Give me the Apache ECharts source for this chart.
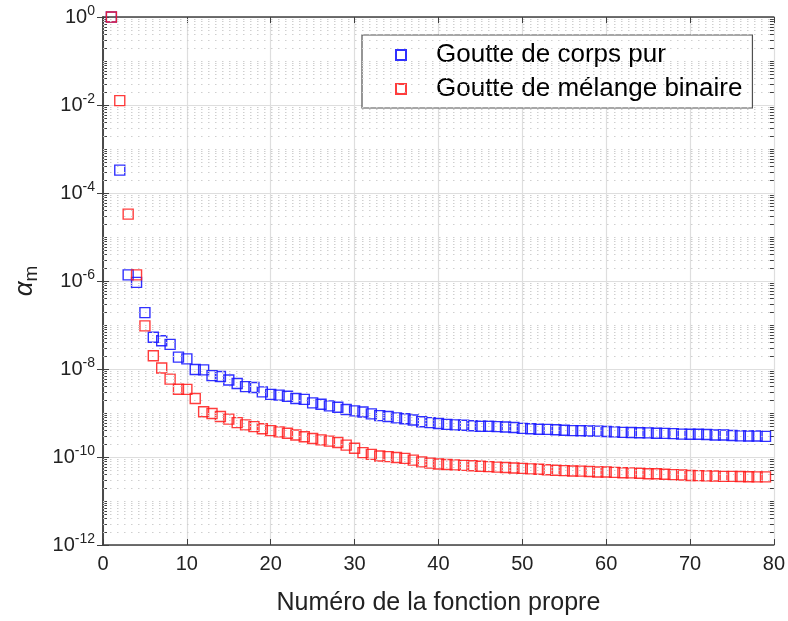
<!DOCTYPE html>
<html><head><meta charset="utf-8">
<script src="https://cdn.jsdelivr.net/npm/echarts@6/dist/echarts.min.js"></script>
<style>html,body{margin:0;padding:0;background:#fff}#c{width:788px;height:621px}</style>
</head><body><div id="c"></div>
<script>
// eigenfunction index m
const modes = [1,2,3,4,5,6,7,8,9,10,11,12,13,14,15,16,17,18,19,20,
  21,22,23,24,25,26,27,28,29,30,31,32,33,34,35,36,37,38,39,40,
  41,42,43,44,45,46,47,48,49,50,51,52,53,54,55,56,57,58,59,60,
  61,62,63,64,65,66,67,68,69,70,71,72,73,74,75,76,77,78,79];
// Goutte de corps pur
const pureDrop = [1,3.31e-4,1.38e-6,9.33e-7,1.91e-7,5.25e-8,4.37e-8,3.63e-8,1.86e-8,1.70e-8,
  9.77e-9,9.55e-9,7.08e-9,6.76e-9,5.62e-9,4.68e-9,3.98e-9,3.80e-9,3.02e-9,2.65e-9,
  2.55e-9,2.40e-9,2.14e-9,2.04e-9,1.70e-9,1.58e-9,1.45e-9,1.35e-9,1.20e-9,1.12e-9,
  1.05e-9,9.55e-10,8.71e-10,8.32e-10,7.76e-10,7.41e-10,6.92e-10,6.31e-10,6.03e-10,5.75e-10,
  5.50e-10,5.37e-10,5.25e-10,5.13e-10,5.01e-10,4.98e-10,4.90e-10,4.79e-10,4.68e-10,4.47e-10,
  4.37e-10,4.27e-10,4.25e-10,4.17e-10,4.07e-10,3.98e-10,3.96e-10,3.89e-10,3.87e-10,3.80e-10,
  3.72e-10,3.63e-10,3.61e-10,3.55e-10,3.53e-10,3.47e-10,3.45e-10,3.39e-10,3.31e-10,3.30e-10,
  3.29e-10,3.24e-10,3.16e-10,3.15e-10,3.09e-10,3.02e-10,3.01e-10,3.00e-10,2.95e-10];
// Goutte de mélange binaire
const binaryDrop = [1,1.26e-2,3.31e-5,1.38e-6,9.55e-8,2.00e-8,1.05e-8,5.89e-9,3.47e-9,3.45e-9,
  2.14e-9,1.07e-9,9.77e-10,8.32e-10,7.24e-10,6.03e-10,5.37e-10,4.90e-10,4.37e-10,3.98e-10,
  3.72e-10,3.47e-10,3.16e-10,2.88e-10,2.63e-10,2.45e-10,2.29e-10,2.14e-10,1.86e-10,1.58e-10,
  1.26e-10,1.15e-10,1.05e-10,1.02e-10,9.77e-11,9.33e-11,8.51e-11,7.76e-11,7.24e-11,6.92e-11,
  6.76e-11,6.61e-11,6.46e-11,6.31e-11,6.17e-11,6.03e-11,5.89e-11,5.75e-11,5.62e-11,5.50e-11,
  5.37e-11,5.25e-11,5.13e-11,5.01e-11,4.90e-11,4.79e-11,4.77e-11,4.68e-11,4.57e-11,4.55e-11,
  4.47e-11,4.37e-11,4.35e-11,4.27e-11,4.17e-11,4.15e-11,4.07e-11,3.98e-11,3.89e-11,3.80e-11,
  3.78e-11,3.72e-11,3.70e-11,3.63e-11,3.62e-11,3.61e-11,3.55e-11,3.54e-11,3.53e-11];
const seriesNames = ['Goutte de corps pur', 'Goutte de mélange binaire'];
const xTicks = [0,10,20,30,40,50,60,70,80];
const yMajorTicks = [1e-12,1e-10,1e-8,1e-6,1e-4,1e-2,1];

// minor log grid positions (2..9 x 10^e and odd decades)
const minorVals = [];
for (let e = -12; e < 0; e++) {
  const base = Math.pow(10, e);
  if (e % 2 !== 0) minorVals.push(base);
  for (let k = 2; k <= 9; k++) minorVals.push(k * base);
}

const chart = echarts.init(document.getElementById('c'), null, {renderer: 'canvas'});
const FONT = '"Liberation Sans", Arial, sans-serif';
const axisCol = '#404040';
const yMin = yMajorTicks[0], yMax = yMajorTicks[yMajorTicks.length - 1];

const logAxisBase = {
  type: 'log', logBase: 10, min: yMin, max: yMax, interval: 2
};

function expLabel(v) {
  const e = Math.round(Math.log10(v));
  return '{b|10}{s|' + e + '}';
}

chart.setOption({
  animation: false,
  backgroundColor: '#fff',
  grid: {left: 103, right: 14, top: 17, bottom: 76, containLabel: false},
  legend: {
    orient: 'vertical', left: 362, top: 35,
    itemWidth: 10, itemHeight: 10, itemGap: 8,
    padding: [7, 10, 6, 33],
    backgroundColor: '#fff', borderColor: '#505050', borderWidth: 1.2,
    textStyle: {fontFamily: FONT, fontSize: 26, color: '#000', padding: [0, 0, 0, 25]},
    data: seriesNames
  },
  xAxis: [{
    type: 'value', min: xTicks[0], max: xTicks[xTicks.length - 1], interval: 10,
    position: 'bottom',
    name: 'Numéro de la fonction propre', nameLocation: 'middle', nameGap: 46,
    nameTextStyle: {fontFamily: FONT, fontSize: 25, color: '#222'},
    axisLine: {show: true, lineStyle: {color: axisCol, width: 1.5}},
    axisTick: {show: true, inside: true, length: 6, lineStyle: {color: axisCol}},
    axisLabel: {fontFamily: FONT, fontSize: 20, color: '#222', margin: 9},
    splitLine: {show: true, lineStyle: {color: '#dedede', width: 1.2}}
  }, {
    type: 'value', min: xTicks[0], max: xTicks[xTicks.length - 1], interval: 10,
    position: 'top',
    axisLine: {show: true, lineStyle: {color: axisCol, width: 1.5}},
    axisTick: {show: true, inside: true, length: 6, lineStyle: {color: axisCol}},
    axisLabel: {show: false}, splitLine: {show: false}
  }],
  yAxis: [Object.assign({}, logAxisBase, {
    position: 'left',
    name: '{a|α}{m|m}', nameLocation: 'middle', nameGap: 56, nameRotate: 90,
    nameTextStyle: {rich: {
      a: {fontFamily: FONT, fontSize: 26, color: '#222', fontStyle: 'italic'},
      m: {fontFamily: FONT, fontSize: 19, color: '#222', padding: [14, 0, 0, 0]}
    }},
    axisLine: {show: true, lineStyle: {color: axisCol, width: 1.5}},
    axisTick: {show: true, inside: true, length: 6, lineStyle: {color: axisCol}},
    axisLabel: {formatter: expLabel, margin: 8, rich: {
      b: {fontFamily: FONT, fontSize: 20, color: '#222'},
      s: {fontFamily: FONT, fontSize: 14, color: '#222', padding: [0, 0, 12, 0]}
    }},
    splitLine: {show: true, lineStyle: {color: '#dedede', width: 1.2}}
  }), Object.assign({}, logAxisBase, {
    position: 'right',
    axisLine: {show: true, lineStyle: {color: axisCol, width: 1.5}},
    axisTick: {show: true, inside: true, length: 6, lineStyle: {color: axisCol}},
    axisLabel: {show: false}, splitLine: {show: false}
  }), Object.assign({}, logAxisBase, {
    position: 'left',
    axisLine: {show: false},
    axisTick: {show: true, inside: true, length: 4, customValues: minorVals, lineStyle: {color: axisCol}},
    axisLabel: {show: false}, splitLine: {show: false}
  }), Object.assign({}, logAxisBase, {
    position: 'right',
    axisLine: {show: false},
    axisTick: {show: true, inside: true, length: 4, customValues: minorVals, lineStyle: {color: axisCol}},
    axisLabel: {show: false}, splitLine: {show: false}
  })],
  series: [{
    type: 'scatter', name: seriesNames[0],
    data: modes.map((x, i) => [x, pureDrop[i]]),
    symbol: 'rect', symbolSize: 10,
    itemStyle: {color: 'rgba(0,0,0,0)', borderColor: '#1a1aff', borderWidth: 1.4, opacity: 0.9},
    z: 3,
    markLine: {
      silent: true, symbol: ['none', 'none'], label: {show: false},
      precision: 20,
      lineStyle: {type: [1.5, 5.5], color: '#cfcfcf', width: 1},
      emphasis: {disabled: true},
      data: minorVals.map(v => ({yAxis: v}))
    }
  }, {
    type: 'scatter', name: seriesNames[1],
    data: modes.map((x, i) => [x, binaryDrop[i]]),
    symbol: 'rect', symbolSize: 10,
    itemStyle: {color: 'rgba(0,0,0,0)', borderColor: '#ff1a1a', borderWidth: 1.4, opacity: 0.85},
    z: 4
  }]
});
</script>
</body></html>
